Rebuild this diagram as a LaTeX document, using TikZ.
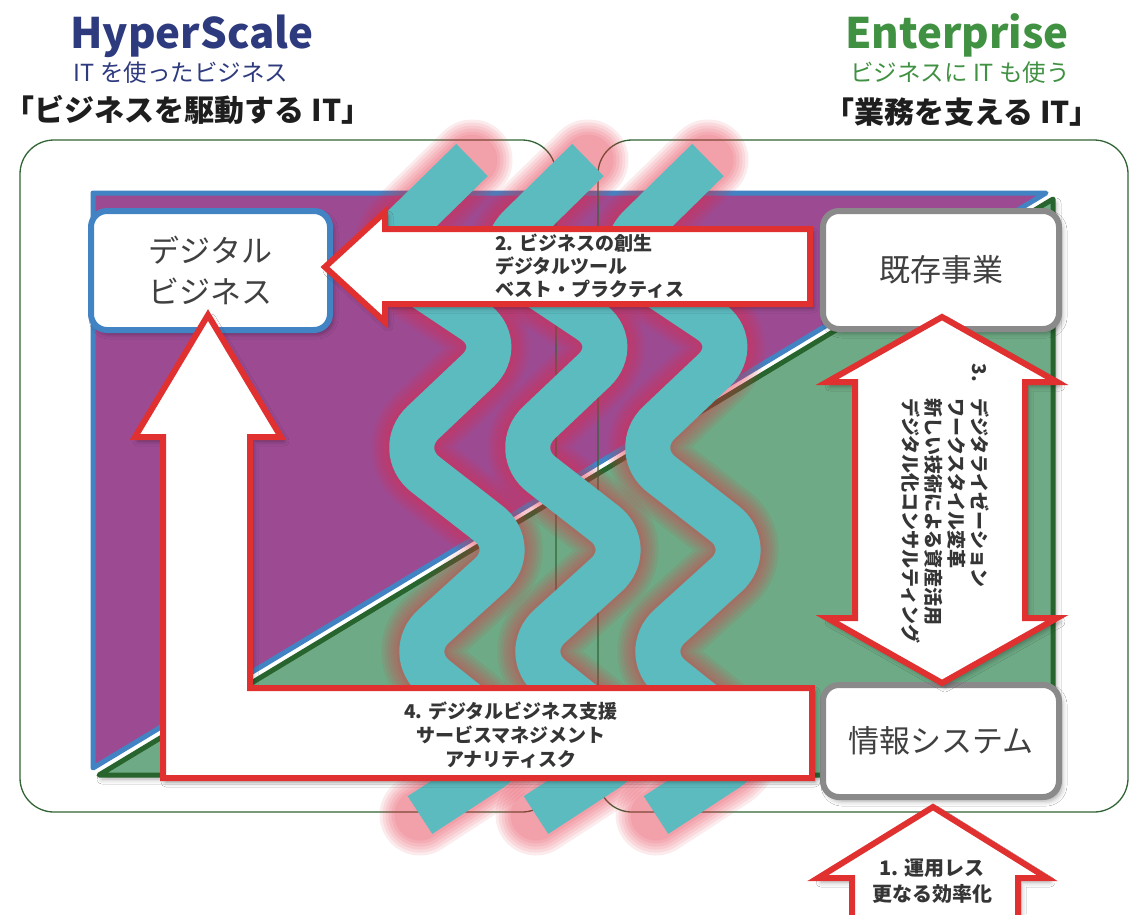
\documentclass[tikz,border=0pt]{standalone}
\usepackage{fontspec}
\setmainfont{Noto Sans CJK JP}
\usetikzlibrary{shadows.blur}
\definecolor{navyhs}{RGB}{46,58,126}
\definecolor{greenent}{RGB}{64,145,66}
\definecolor{framegreen}{RGB}{48,100,52}
\definecolor{plum}{RGB}{156,75,147}
\definecolor{edgeblue}{RGB}{66,131,196}
\definecolor{field}{RGB}{110,170,133}
\definecolor{edgegreen}{RGB}{40,100,45}
\definecolor{stream}{RGB}{92,187,191}
\definecolor{halo}{RGB}{232,40,64}
\definecolor{arrowred}{RGB}{224,48,48}
\definecolor{boxgray}{RGB}{138,138,138}
\definecolor{ink}{RGB}{30,30,30}
\begin{document}
\begin{tikzpicture}[x=1pt,y=-1pt,
  frame/.style={draw=framegreen, line width=1.3, rounded corners=34},
  softshadow/.style={blur shadow={shadow xshift=3pt, shadow yshift=-4pt, shadow blur radius=5pt, shadow opacity=35}},
  blockarrow/.style={draw=arrowred, line width=6, fill=white, line join=miter, softshadow},
  card/.style={fill=white, line width=6, rounded corners=16, inner sep=0, align=center, text=ink!85, font=\fontsize{31}{41}\selectfont, softshadow},
  glow/.style={draw=halo, draw opacity=0.09, rounded corners=40, line cap=round},
  band/.style={draw=stream, line width=45, rounded corners=40},
  lbl/.style={text=ink!90, inner sep=0},
  title/.style={inner sep=0, font=\fontsize{42}{42}\selectfont\bfseries},
  subtitle/.style={inner sep=0, font=\fontsize{23.5}{23.5}\selectfont},
  motto/.style={inner sep=0, text=ink, font=\fontsize{30}{30}\selectfont\bfseries},
]
\clip (0,0) rectangle (1131,914);
\fill[white] (0,0) rectangle (1131,914);

% headings
\node[title, anchor=base, text=navyhs] (hs) at (192,48) {HyperScale};
\node[subtitle, text=navyhs] (hssub) at (181,73) {IT を使ったビジネス};
\node[motto] (hsmotto) at (188,110) {「ビジネスを駆動する IT」};
\node[title, anchor=base, text=greenent] (en) at (957,48) {Enterprise};
\node[subtitle, text=greenent] (ensub) at (960,73) {ビジネスに IT も使う};
\node[motto] (enmotto) at (962,112) {「業務を支える IT」};

% split field: digital (upper left) and existing (lower right)
\filldraw[fill=field, draw=edgegreen, line width=5, line join=round, softshadow]
  (1053,199) -- (1053,775) -- (99,775) -- cycle;
\filldraw[fill=plum, draw=edgeblue, line width=5, line join=round, line cap=round]
  (93,193) -- (1046,193) -- (93,768) -- cycle;

% the two domains
\draw[frame] (20,140) rectangle (556,812);
\draw[frame] (598,140) rectangle (1128,812);

% flowing streams with their glow
\foreach \dx in {0,116,236} {
  \foreach \w in {81,75,69,63,57,51} {
    \draw[glow, line width=\w, shift={(\dx,0)}]
      (472,160) -- (375,255) -- (507,343) -- (394,450) -- (520,548)
      -- (404,653) -- (523,748) -- (420,815);
  }
}
\foreach \dx in {0,116,236} {
  \draw[band, shift={(\dx,0)}]
    (472,160) -- (375,255) -- (507,343) -- (394,450) -- (520,548)
    -- (404,653) -- (523,748) -- (420,815);
}

% business boxes
\node[card, draw=edgeblue, minimum width=239, minimum height=119] (digital) at (210.5,270.5) {デジタル\\ビジネス};
\node[card, draw=boxgray, minimum width=236, minimum height=118] (legacy) at (941,270) {既存事業};
\node[card, draw=boxgray, minimum width=236, minimum height=112] (infosys) at (941,741) {情報システム};

% 2: new business, towards the digital side
\draw[blockarrow] (325,267) -- (385,212) -- (385,229) -- (810,229) -- (810,304)
  -- (385,304) -- (385,322) -- cycle;
\node[lbl, anchor=north west, align=left, font=\fontsize{19}{23}\selectfont\bfseries] (l2) at (495,234)
  {2. ビジネスの創生\\デジタルツール\\ベスト・プラクティス};

% 3: between existing business and information systems
\draw[blockarrow] (942,317) -- (1057,382) -- (1025,382) -- (1025,618) -- (1057,618)
  -- (942,683) -- (827,618) -- (855,618) -- (855,382) -- (827,382) -- cycle;
\node[lbl, rotate=-90, anchor=north west, align=left, font=\fontsize{19}{23}\selectfont\bfseries] (l3) at (989,398)
  {\makebox[0pt][r]{3.\hspace{16pt}}デジタライゼーション\\ワークスタイル変革\\新しい技術による資産活用\\デジタル化コンサルティング};

% 4: support for the digital business
\draw[blockarrow] (208,315) -- (281,437) -- (250,437) -- (250,688) -- (812,688)
  -- (812,778) -- (163,778) -- (163,437) -- (135,437) -- cycle;
\node[lbl, align=center, font=\fontsize{19}{24}\selectfont\bfseries] (l4) at (511,735)
  {4. デジタルビジネス支援\\サービスマネジメント\\アナリティスク};

% 1: operations
\draw[blockarrow] (933,807) -- (1047,878) -- (1018,878) -- (1018,930) -- (852,930)
  -- (852,878) -- (818,878) -- cycle;
\node[lbl, align=center, font=\fontsize{20}{26}\selectfont\bfseries] (l1) at (932,881)
  {1. 運用レス\\更なる効率化};
\end{tikzpicture}
\end{document}
